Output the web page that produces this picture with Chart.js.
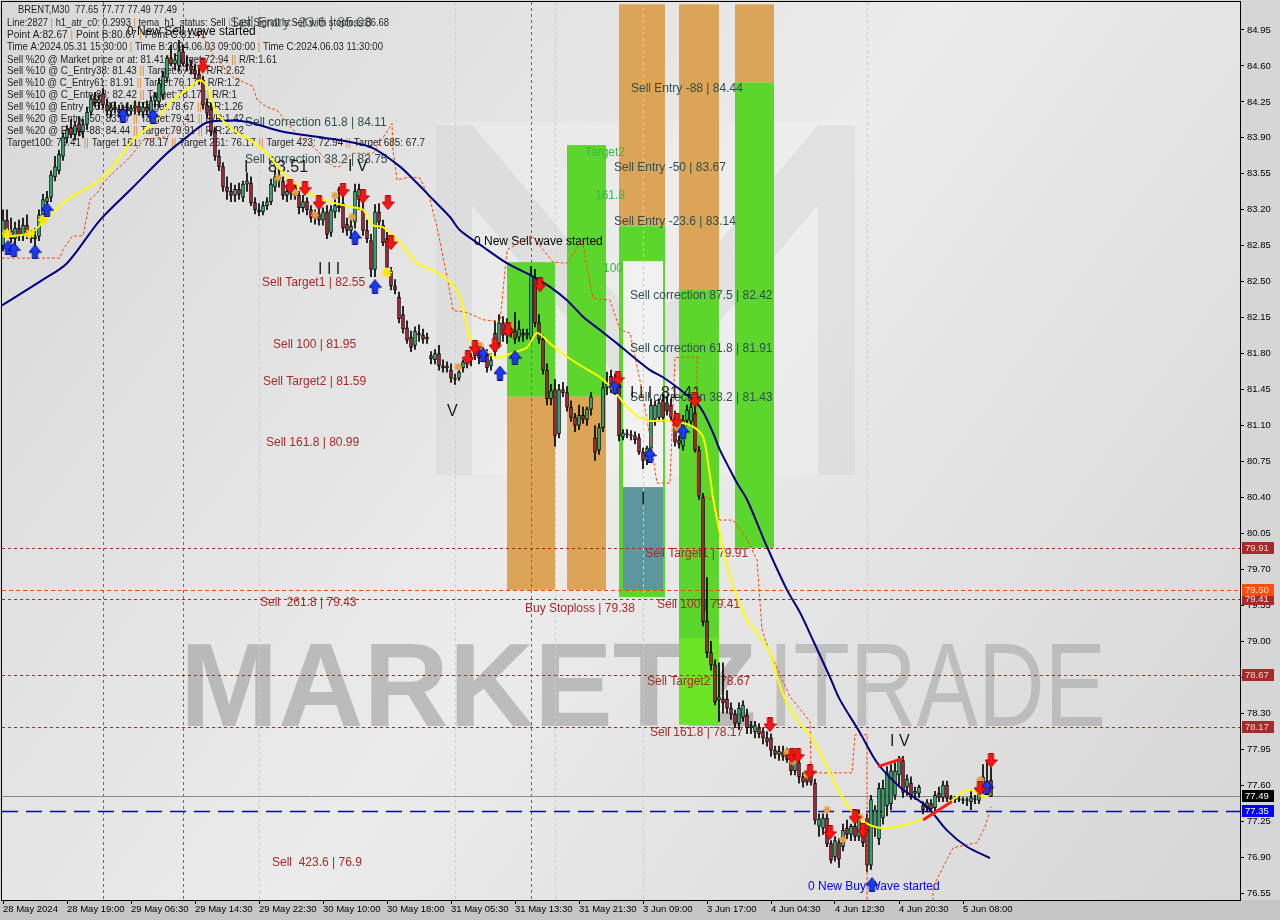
<!DOCTYPE html>
<html>
<head>
<meta charset="utf-8">
<title>BRENT M30</title>
<script src="https://cdn.jsdelivr.net/npm/chart.js@4.4.1/dist/chart.umd.min.js"></script>
<style>
  html, body { margin: 0; padding: 0; background: #d6d6d6; }
  #box { position: relative; width: 1280px; height: 920px; }
</style>
</head>
<body>
<div id="box"><canvas id="chart"></canvas></div>
<script>
// ---- M30 candles, 28 May 2024 -> 5 Jun 2024 (bar index = position) ----
const opens = [
  82.85,83.10,83.00,82.92,83.02,82.95,83.05,82.96,82.92,82.94,
  83.15,83.28,83.32,83.52,83.58,83.72,83.90,84.00,83.93,84.04,
  83.96,84.03,84.15,84.28,84.24,84.33,84.22,84.16,84.20,84.18,
  84.15,84.18,84.16,84.19,84.21,84.15,84.20,84.14,84.26,84.25,
  84.32,84.48,84.68,84.62,84.60,84.74,84.62,84.60,84.56,84.52,
  84.46,84.22,84.18,83.96,83.72,83.62,83.42,83.38,83.34,83.40,
  83.32,83.45,83.46,83.27,83.20,83.18,83.24,83.28,83.42,83.52,
  83.48,83.34,83.36,83.42,83.34,83.22,83.28,83.20,83.12,83.16,
  83.10,83.18,82.98,83.18,83.24,83.26,83.06,83.00,83.08,83.30,
  83.20,83.00,82.90,82.62,83.18,83.05,82.92,82.60,82.46,82.35,
  82.18,82.05,81.96,81.88,82.00,81.98,81.94,81.78,81.74,81.80,
  81.68,81.66,81.64,81.56,81.56,81.66,81.70,81.74,81.78,81.86,
  81.78,81.78,81.68,82.00,81.90,82.10,81.98,82.04,82.02,81.96,
  82.00,81.98,81.95,82.54,82.10,81.94,81.64,81.36,81.45,81.02,
  81.45,81.42,81.28,81.18,81.10,81.20,81.16,81.26,80.98,80.86,
  81.08,81.47,81.58,81.46,81.50,80.99,81.02,81.01,81.00,80.98,
  80.84,80.76,80.88,81.16,81.18,81.34,81.32,81.30,81.18,80.96,
  80.90,81.15,81.14,81.22,80.86,80.40,79.20,78.89,78.77,78.43,
  78.44,78.44,78.35,78.29,78.20,78.26,78.28,78.16,78.12,78.16,
  78.12,78.06,78.06,77.94,77.90,77.92,77.90,77.85,77.74,77.82,
  77.68,77.68,77.70,77.62,77.20,77.18,77.28,77.03,76.90,77.04,
  77.00,77.18,77.12,77.20,77.10,77.18,77.28,76.82,77.18,77.08,
  77.28,77.40,77.42,77.50,77.70,77.84,77.58,77.62,77.52,77.52,
  77.40,77.38,77.42,77.38,77.52,77.48,77.60,77.48,77.46,77.47,
  77.46,77.45,77.44,77.47,77.45,77.58,77.62,77.65
];
const highs = [
  83.20,83.20,83.12,83.08,83.10,83.12,83.15,83.00,83.02,83.20,
  83.35,83.38,83.58,83.72,83.78,83.95,84.02,84.08,84.06,84.10,
  84.08,84.20,84.32,84.34,84.32,84.38,84.28,84.24,84.25,84.22,
  84.22,84.24,84.22,84.26,84.25,84.24,84.26,84.30,84.34,84.48,
  84.55,84.70,84.80,84.72,84.85,84.80,84.70,84.66,84.62,84.58,
  84.50,84.28,84.24,84.00,83.78,83.66,83.52,83.46,83.44,83.46,
  83.48,83.56,83.52,83.32,83.26,83.28,83.32,83.50,83.58,83.60,
  83.52,83.44,83.46,83.46,83.38,83.34,83.32,83.24,83.20,83.22,
  83.22,83.24,83.24,83.30,83.42,83.44,83.12,83.10,83.45,83.45,
  83.40,83.10,82.96,83.25,83.26,83.10,82.98,82.64,82.52,82.40,
  82.26,82.12,82.02,82.06,82.08,82.04,82.00,81.82,81.84,81.88,
  81.74,81.72,81.70,81.60,81.64,81.74,81.78,81.80,81.92,81.90,
  81.86,81.84,81.80,82.12,82.18,82.16,82.14,82.10,82.20,82.12,
  82.04,82.04,82.65,82.62,82.18,81.98,81.70,81.50,81.55,81.50,
  81.52,81.48,81.34,81.22,81.30,81.28,81.28,81.42,81.10,81.12,
  81.52,81.62,81.64,81.60,81.56,81.06,81.06,81.05,81.04,81.02,
  80.88,80.90,81.36,81.34,81.36,81.40,81.38,81.36,81.24,81.00,
  81.20,81.30,81.32,81.40,80.90,80.44,79.62,79.00,78.82,78.79,
  78.79,78.52,78.40,78.33,78.40,78.42,78.34,78.22,78.22,78.20,
  78.16,78.12,78.10,77.98,77.98,77.98,77.96,77.90,77.86,77.86,
  77.72,77.72,77.74,77.66,77.32,77.32,77.32,77.06,77.10,77.08,
  77.22,77.26,77.22,77.24,77.36,77.22,77.32,77.50,77.40,77.62,
  77.65,77.78,77.80,77.82,77.88,77.88,77.70,77.68,77.58,77.60,
  77.44,77.46,77.46,77.54,77.58,77.64,77.64,77.50,77.49,77.50,
  77.48,77.48,77.54,77.50,77.62,77.80,77.82,77.77
];
const lows = [
  82.80,82.95,82.88,82.85,82.90,82.90,82.92,82.88,82.80,82.90,
  83.10,83.20,83.28,83.48,83.55,83.68,83.85,83.90,83.88,83.92,
  83.90,83.98,84.12,84.20,84.18,84.18,84.12,84.10,84.14,84.10,
  84.10,84.12,84.12,84.13,84.12,84.10,84.12,84.10,84.20,84.20,
  84.28,84.45,84.60,84.56,84.55,84.60,84.55,84.52,84.48,84.42,
  84.18,84.10,83.92,83.68,83.58,83.38,83.30,83.28,83.28,83.30,
  83.28,83.38,83.24,83.16,83.14,83.15,83.20,83.25,83.38,83.42,
  83.30,83.28,83.30,83.30,83.16,83.18,83.15,83.08,83.06,83.05,
  83.05,82.92,82.94,83.12,83.18,82.98,82.95,82.92,83.02,83.20,
  82.95,82.88,82.55,82.55,83.02,82.85,82.60,82.42,82.38,82.10,
  82.00,81.90,81.82,81.84,81.92,81.90,81.90,81.70,81.70,81.64,
  81.62,81.62,81.52,81.50,81.54,81.62,81.66,81.68,81.74,81.70,
  81.72,81.62,81.64,81.76,81.86,81.92,81.90,81.96,81.90,81.92,
  81.92,81.94,81.90,82.06,81.90,81.60,81.30,81.30,80.90,80.98,
  81.38,81.24,81.14,81.04,81.06,81.12,81.10,81.20,80.76,80.82,
  81.04,81.40,81.42,81.40,80.95,80.96,80.98,80.96,80.92,80.82,
  80.68,80.72,80.84,81.10,81.14,81.14,81.20,81.14,80.90,80.88,
  80.86,81.10,81.10,80.84,80.38,79.15,78.84,78.72,78.38,78.22,
  78.30,78.30,78.24,78.16,78.14,78.22,78.10,78.10,78.06,78.06,
  78.00,77.98,77.88,77.86,77.84,77.84,77.82,77.70,77.70,77.62,
  77.58,77.60,77.60,77.22,77.10,77.12,77.00,76.84,76.86,76.80,
  76.96,77.08,77.06,77.06,77.06,77.00,76.76,76.78,77.10,77.02,
  77.22,77.30,77.36,77.46,77.60,77.48,77.50,77.46,77.46,77.48,
  77.32,77.34,77.34,77.34,77.44,77.44,77.44,77.44,77.43,77.44,
  77.42,77.40,77.36,77.42,77.42,77.52,77.50,77.49
];
const closes = [
  83.10,83.00,82.92,83.02,82.95,83.05,82.96,82.92,82.94,83.15,
  83.30,83.32,83.54,83.62,83.74,83.91,83.98,83.93,84.02,83.96,
  84.03,84.15,84.28,84.24,84.28,84.22,84.16,84.20,84.18,84.15,
  84.18,84.16,84.19,84.21,84.15,84.20,84.16,84.26,84.30,84.43,
  84.50,84.68,84.62,84.66,84.75,84.62,84.60,84.56,84.52,84.46,
  84.22,84.14,83.96,83.72,83.62,83.42,83.38,83.34,83.40,83.35,
  83.45,83.48,83.27,83.20,83.18,83.24,83.28,83.45,83.52,83.48,
  83.34,83.38,83.42,83.34,83.22,83.28,83.20,83.12,83.16,83.10,
  83.18,82.96,83.20,83.24,83.22,83.02,83.00,83.04,83.38,83.40,
  83.00,82.92,82.62,83.18,83.08,82.88,82.64,82.46,82.42,82.14,
  82.04,81.93,81.86,82.02,81.98,81.94,81.96,81.75,81.80,81.68,
  81.66,81.68,81.56,81.55,81.62,81.72,81.74,81.76,81.88,81.76,
  81.80,81.66,81.74,81.82,82.10,81.98,82.08,82.00,81.94,82.04,
  81.98,82.00,82.56,82.10,81.94,81.64,81.36,81.44,81.00,81.45,
  81.42,81.28,81.18,81.10,81.20,81.16,81.26,81.38,80.84,81.08,
  81.47,81.50,81.46,81.52,81.00,81.03,81.01,81.00,80.96,80.84,
  80.76,80.88,81.30,81.30,81.32,81.18,81.24,81.18,80.94,80.92,
  81.15,81.25,81.28,80.86,80.41,79.19,78.89,78.77,78.41,78.46,
  78.40,78.35,78.29,78.20,78.35,78.38,78.16,78.18,78.18,78.10,
  78.06,78.02,77.94,77.90,77.93,77.88,77.85,77.74,77.82,77.68,
  77.63,77.63,77.63,77.26,77.27,77.28,77.03,76.87,77.06,76.88,
  77.16,77.12,77.20,77.10,77.30,77.04,76.82,77.46,77.36,77.57,
  77.57,77.72,77.74,77.74,77.84,77.53,77.66,77.48,77.54,77.58,
  77.36,77.43,77.37,77.50,77.48,77.60,77.47,77.46,77.47,77.46,
  77.45,77.46,77.48,77.46,77.53,77.68,77.64,77.49
];

// ---- axes ----
const timeTickBars = [0, 16, 32, 48, 64, 80, 96, 112, 128, 144, 160, 176, 192, 208, 224, 240];
const timeTickText = ['28 May 2024', '28 May 19:00', '29 May 06:30', '29 May 14:30', '29 May 22:30',
  '30 May 10:00', '30 May 18:00', '31 May 05:30', '31 May 13:30', '31 May 21:30', '3 Jun 09:00',
  '3 Jun 17:00', '4 Jun 04:30', '4 Jun 12:30', '4 Jun 20:30', '5 Jun 08:00'];
const priceTicks = [84.95, 84.60, 84.25, 83.90, 83.55, 83.20, 82.85, 82.50, 82.15, 81.80, 81.45,
  81.10, 80.75, 80.40, 80.05, 79.70, 79.35, 79.00, 78.65, 78.30, 77.95, 77.60, 77.25, 76.90, 76.55];

// ---- indicator lines (bar index / price) ----
const temaX = [0, 6.75, 10, 12.5, 16, 20, 24.25, 26.75, 29.25, 32.5, 36.75, 40, 41.75, 46, 49.25, 51, 53.5,
  57.5, 61.75, 66, 70, 74.25, 78.5, 82.5, 86.75, 90, 92.5, 95, 99.25, 103.5, 107.5, 111.75, 114.25,
  117.25, 120, 123.5, 127.5, 131, 133.5, 136.75, 141, 145, 149.25, 152.5, 156.75, 161, 165, 169.25,
  172.5, 175, 176.25, 177.5, 179.25, 180.5, 181.75, 183.5, 186, 189.25, 191.75, 193.5, 196, 199.25,
  202.5, 206, 209.25, 212.5, 216.75, 221, 225, 229.25, 233.5, 237.5, 241, 243.5, 245, 247];
const temaY = [82.94, 82.97, 83.08, 83.17, 83.30, 83.39, 83.49, 83.59, 83.71, 83.88, 84.01, 84.15, 84.24,
  84.37, 84.46, 84.40, 84.14, 83.98, 83.88, 83.75, 83.56, 83.42, 83.32, 83.27, 83.23, 83.20, 83.05,
  83.03, 82.88, 82.68, 82.61, 82.50, 82.35, 81.90, 81.84, 81.76, 81.81, 81.86, 82.00, 81.90, 81.77,
  81.67, 81.57, 81.45, 81.25, 81.15, 81.15, 81.13, 81.09, 80.99, 80.74, 80.40, 80.05, 79.82, 79.63,
  79.43, 79.21, 79.04, 78.89, 78.65, 78.40, 78.20, 78.04, 77.78, 77.52, 77.33, 77.21, 77.18, 77.21,
  77.26, 77.34, 77.46, 77.55, 77.53, 77.48, 77.52];
const maX = [-0.25, 10, 16, 24.25, 32.5, 41, 46, 51, 57.5, 61.75, 70, 78.5, 86.75, 92.5, 99.25, 103.5,
  107.5, 111.75, 114.25, 120, 126, 132.5, 136.75, 141, 145, 149.25, 153.5, 157.5, 161.75, 165, 169.25,
  174.25, 177.5, 179.25, 181.75, 183.5, 186, 191, 196, 199.25, 202.5, 206.75, 209.25, 214.25, 218.5,
  224.25, 231, 236, 241, 246.75];
const maY = [82.27, 82.52, 82.68, 83.10, 83.42, 83.75, 83.91, 84.05, 84.07, 84.05, 83.96, 83.91, 83.86,
  83.80, 83.62, 83.46, 83.30, 83.13, 83.00, 82.84, 82.68, 82.55, 82.45, 82.32, 82.16, 82.03, 81.90,
  81.77, 81.64, 81.57, 81.45, 81.28, 81.03, 80.86, 80.67, 80.54, 80.38, 79.92, 79.50, 79.28, 79.01,
  78.65, 78.43, 78.11, 77.82, 77.58, 77.39, 77.16, 77.00, 76.89];
const stopX = [-0.25, 14.25, 15, 17.25, 20, 21.75, 23.5, 25, 27.5, 31.75, 35, 38.5, 41, 47, 47,
  49.25, 52.5, 57.5, 62.5, 63.5, 66, 68.5, 71.75, 74.25, 78.5, 82.5, 84.25, 87.25, 92.5, 97.25, 97.5,
  98.5, 101.75, 104.25, 106.75, 108.5, 111, 112.5, 116, 120, 124.25, 126, 132.25, 137.5, 141, 144.75,
  147.5, 151.75, 154.25, 156.75, 159.25, 161.75, 163.5, 166.75, 168, 173.5, 173.5, 177.5, 179.25,
  182.5, 185.75, 188.5, 189.75, 191.75, 196.75, 201.75, 202, 212.25, 213, 216, 216, 232.5, 232.5,
  237.5, 243.5, 245.5, 247];
const stopY = [82.73, 82.73, 82.81, 82.94, 82.95, 83.30, 83.36, 83.46, 83.56, 83.71, 83.88, 83.90,
  83.91, 84.07, null,
  84.93, 84.71, 84.49, 84.40, 84.27, 84.20, 84.17, 84.01, 83.91, 83.78, 83.62, 83.62, 83.75, 83.75,
  84.04, 83.78, 83.49, 83.52, 83.51, 83.30, 83.03, 82.55, 82.22, 82.20, 82.13, 82.11, 82.81, 82.95,
  82.69, 82.68, 82.91, 82.34, 82.32, 82.03, 82.00, 81.54, 80.99, 80.54, 80.54, 81.76, 81.77, 80.44,
  80.38, 80.18, 80.18, 80.01, 79.79, 79.11, 78.89, 78.46, 78.22, 77.72, 77.72, 78.09, 78.09, 76.45,
  76.45, 76.61, 76.99, 77.04, 77.19, 77.39];
const trendA = [[218.75, 77.78], [225, 77.86]];
const trendB = [[230, 77.26], [237.25, 77.44]];

// ---- signal markers ----
const sellArrowX = [50, 71.75, 75.5, 79, 85, 90, 96.25, 97, 116.25, 118, 123, 126.25, 134.25, 153.75,
  168.5, 173, 191.75, 197.25, 198.75, 201.75, 206.75, 213, 215, 244.25, 247];
const sellArrowY = [84.60, 83.43, 83.41, 83.27, 83.39, 83.33, 83.27, 82.88, 81.76, 81.86, 81.88, 82.03,
  82.47, 81.56, 81.15, 81.35, 78.19, 77.89, 77.89, 77.73, 77.14, 77.29, 77.16, 77.57, 77.84];
const buyArrowX = [1.25, 2.75, 8, 11, 30, 37.5, 88, 93, 120, 124.25, 128, 153, 161.75, 170, 217.25, 246];
const buyArrowY = [82.83, 82.81, 82.79, 83.20, 84.12, 84.11, 82.93, 82.45, 81.79, 81.61, 81.76, 81.48,
  80.81, 81.04, 76.63, 77.58];
const crossX = [68.75, 73, 78, 83, 87.25, 113.75, 119.25, 126.75, 168.5, 196, 197.5, 201, 206, 210, 214.25, 244.25];
const crossY = [83.51, 83.37, 83.15, 83.34, 83.13, 81.67, 81.88, 82.08, 81.08, 77.92, 77.83, 77.70,
  77.36, 77.07, 77.29, 77.65];
const starX = [1, 6.75, 10, 96];
const starY = [82.97, 82.97, 83.10, 82.59];

// ---- zones: from bar, to bar, top price, bottom price ----
const zoneFrom = [126, 126, 141, 141, 154, 154, 155, 155, 169, 169, 169, 183, 183];
const zoneTo = [138, 138, 150.75, 150.75, 165.5, 165.5, 165, 165, 179, 179, 179, 192.75, 192.75];
const zoneHigh = [82.69, 81.38, 83.83, 81.38, 85.20, 83.04, 82.70, 80.50, 85.20, 82.42, 79.03, 85.20, 84.44];
const zoneLow = [81.38, 79.50, 81.38, 79.50, 83.04, 79.43, 80.50, 79.50, 82.42, 78.19, 78.19, 84.44, 79.91];
const zoneKind = ['green', 'orange', 'green', 'orange', 'orange', 'green', 'white', 'teal', 'orange',
  'green', 'lime', 'orange', 'green'];

// ---- horizontal levels and vertical markers ----
const levelPrice = [79.91, 79.41, 78.67, 78.17, 79.50, 77.49, 77.35];
const levelKind = ['target', 'target', 'target', 'target', 'entry', 'bid', 'ask'];
const vlineBar = [25, 45, 132, 64, 113, 138, 160, 216];
const vlineKind = ['time', 'time', 'time', 'day', 'day', 'day', 'day', 'day'];

// ---- text on the chart: bar, price ----
const labelText = ['Sell Entry -88 | 84.44', 'Sell Entry -50 | 83.67', 'Sell Entry -23.6 | 83.14',
  'Sell correction 87.5 | 82.42', 'Sell correction 61.8 | 81.91', 'Sell correction 38.2 | 81.43',
  'Sell correction 61.8 | 84.11', 'Sell correction 38.2 | 83.75',
  'Sell Target1 | 82.55', 'Sell 100 | 81.95', 'Sell Target2 | 81.59', 'Sell 161.8 | 80.99',
  'Sell  261.8 | 79.43', 'Sell  423.6 | 76.9', 'Buy Stoploss | 79.38', 'Sell Target1 | 79.91',
  'Sell 100 | 79.41', 'Sell Target2 | 78.67', 'Sell 161.8 | 78.17',
  'I I I  81.41', 'I', '83.51', 'I I I', 'I V', 'V', 'I V', 'I',
  '0 New Sell wave started', '0 New Sell wave started', '0 New Buy Wave started',
  'Target2', '161.8', '100', 'Sell Entry -23.6 | 85.08'];
const labelBar = [157, 152.75, 152.75, 156.75, 156.75, 156.75, 60.5, 60.5,
  64.75, 67.5, 65, 65.75, 64.25, 67.25, 130.5, 160.5, 163.5, 161, 161.75,
  156.75, 60.25, 66.25, 78.75, 86.25, 111, 221.75, 159.5,
  31, 117.75, 201.25, 145.5, 148, 150, 56.75];
const labelPrice = [84.44, 83.67, 83.14, 82.42, 81.91, 81.43, 84.11, 83.75,
  82.55, 81.95, 81.59, 80.99, 79.43, 76.9, 79.38, 79.91, 79.41, 78.67, 78.17,
  81.41, 83.61, 83.61, 82.62, 83.62, 81.24, 78.02, 80.38,
  84.93, 82.89, 76.61, 83.76, 83.34, 82.63, 85.02];
const labelKind = ['entry', 'entry', 'entry', 'entry', 'entry', 'entry', 'entry', 'entry',
  'target', 'target', 'target', 'target', 'target', 'target', 'target', 'target', 'target', 'target', 'target',
  'wave', 'wave', 'wave', 'wave', 'wave', 'wave', 'wave', 'wave',
  'note', 'note', 'buy', 'fib', 'fib', 'fib', 'big'];

const headerLines = [
  'BRENT,M30  77.65 77.77 77.49 77.49',
  'Line:2827 | h1_atr_c0: 0.2993 | tema_h1_status: Sell | Last Signal is:Sell with stoploss:86.68',
  'Point A:82.67 | Point B:80.67 | Point C:81.41',
  'Time A:2024.05.31 15:30:00 | Time B:2024.06.03 09:00:00 | Time C:2024.06.03 11:30:00',
  'Sell %20 @ Market price or at: 81.41 || Target:72.94 || R/R:1.61',
  'Sell %10 @ C_Entry38: 81.43 || Target:67.7 || R/R:2.62',
  'Sell %10 @ C_Entry61: 81.91 || Target:76.17 || R/R:1.2',
  'Sell %10 @ C_Entry88: 82.42 || Target:78.17 || R/R:1',
  'Sell %10 @ Entry -23: 83.14 || Target:78.67 || R/R:1.26',
  'Sell %20 @ Entry -50: 83.67 || Target:79.41 || R/R:1.42',
  'Sell %20 @ Entry -88: 84.44 || Target:79.91 || R/R:2.02',
  'Target100: 79.41 || Target 161: 78.17 || Target 261: 76.17 || Target 423: 72.94 || Target 685: 67.7'
];

// ---------------------------------------------------------------
const FONT = '"Liberation Sans", Arial, sans-serif';
const zoneColor = { green: '#5cd62c', orange: '#dba456', white: '#f1f1f1', teal: '#5e979b', lime: '#6ce426' };
const levelStyle = {
  target: { color: '#a52a2a', dash: [3, 3], width: 1, box: '#a52a2a', text: '#f2d4d4' },
  entry: { color: '#ff4500', dash: [4, 3], width: 1, box: '#ff4f0a', text: '#ffe0cc' },
  bid: { color: '#8a8a8a', dash: [], width: 1, box: '#000000', text: '#ffffff' },
  ask: { color: '#0000cd', dash: [16, 8], width: 1.5, box: '#0000ff', text: '#ffffff' }
};
const labelStyle = {
  entry: { font: '12px ' + FONT, color: '#2f4f4f', base: 'top' },
  target: { font: '12px ' + FONT, color: '#a52a2a', base: 'top' },
  wave: { font: '16px ' + FONT, color: '#1c1c1c', base: 'middle' },
  note: { font: '12px ' + FONT, color: '#000000', base: 'middle' },
  buy: { font: '12px ' + FONT, color: '#0000ff', base: 'middle' },
  fib: { font: '12px ' + FONT, color: '#3cb83c', base: 'middle' },
  big: { font: '14px ' + FONT, color: 'rgba(60,75,75,0.75)', base: 'middle' }
};
const headerY = [10, 23, 35, 47, 60, 71, 83, 95, 107, 119, 131, 143];
const headerEnd = [177, 389, 206, 383, 277, 245, 240, 237, 243, 244, 244, 425];

function arrowImage(fill, edge, down) {
  const c = document.createElement('canvas');
  c.width = 13; c.height = 15;
  const g = c.getContext('2d');
  const pts = [[4, 0.5], [9, 0.5], [9, 7], [12.5, 7], [6.5, 14.5], [0.5, 7], [4, 7]];
  g.beginPath();
  pts.forEach(([px, py], k) => {
    const yy = down ? py : 15 - py;
    if (k) g.lineTo(px, yy); else g.moveTo(px, yy);
  });
  g.closePath();
  g.fillStyle = fill; g.fill();
  g.strokeStyle = edge; g.lineWidth = 1; g.stroke();
  return c;
}

function drawHeader(ctx) {
  ctx.font = '11px ' + FONT;
  ctx.textBaseline = 'middle';
  ctx.textAlign = 'left';
  headerLines.forEach((line, k) => {
    const x0 = k === 0 ? 18 : 7;
    const sx = (headerEnd[k] - x0) / ctx.measureText(line).width;
    ctx.save();
    ctx.translate(x0, headerY[k]);
    ctx.scale(sx, 1);
    let cx = 0;
    line.split(/(\|+)/).forEach(part => {
      if (!part) return;
      ctx.fillStyle = part[0] === '|' ? '#e0862c' : '#1e1e1e';
      ctx.fillText(part, cx, 0);
      cx += ctx.measureText(part).width;
    });
    ctx.restore();
  });
}

// keep the plot edge-to-edge like the terminal window
function noPad(s) {
  s.paddingLeft = 0; s.paddingRight = 0; s.paddingTop = 0; s.paddingBottom = 0;
}

const decor = {
  id: 'decor',
  beforeDraw(chart) {
    const { ctx, chartArea: a, width, height } = chart;
    ctx.save();
    ctx.fillStyle = '#d6d6d6';
    ctx.fillRect(0, 0, width, height);
    ctx.fillStyle = '#c6c6c6';
    ctx.fillRect(0, a.bottom, width, height - a.bottom);
    const g = ctx.createLinearGradient(a.left, a.top, a.right, a.bottom);
    g.addColorStop(0, '#d8d8d8');
    g.addColorStop(0.5, '#ebebeb');
    g.addColorStop(1, '#d6d6d6');
    ctx.fillStyle = g;
    ctx.fillRect(a.left, a.top, a.right - a.left, a.bottom - a.top);
    ctx.restore();
  },
  beforeDatasetsDraw(chart) {
    const { ctx, chartArea: a, scales: { x, y } } = chart;
    ctx.save();
    ctx.beginPath();
    ctx.rect(a.left, a.top, a.right - a.left, a.bottom - a.top);
    ctx.clip();

    // watermark logo and brand text
    ctx.fillStyle = 'rgba(255,255,255,0.18)';
    ctx.fillRect(436, 122, 419, 353);
    ctx.fillStyle = 'rgba(150,150,150,0.13)';
    ctx.beginPath();
    [[436, 475], [436, 125], [472, 125], [645, 330], [818, 125], [855, 125], [855, 475], [818, 475],
     [818, 205], [645, 410], [472, 205], [472, 475]].forEach(([px, py], k) => k ? ctx.lineTo(px, py) : ctx.moveTo(px, py));
    ctx.closePath();
    ctx.fill();
    ctx.textBaseline = 'alphabetic';
    ctx.textAlign = 'left';
    ctx.font = 'bold 118px ' + FONT;
    ctx.fillStyle = 'rgba(125,125,125,0.42)';
    ctx.fillText('MARKETZ', 180, 726, 585);
    ctx.font = '118px ' + FONT;
    ctx.fillStyle = 'rgba(135,135,135,0.38)';
    ctx.fillText('ITRADE', 768, 726, 338);

    // zones
    zoneFrom.forEach((f, k) => {
      const x0 = x.getPixelForValue(f), x1 = x.getPixelForValue(zoneTo[k]);
      const y0 = y.getPixelForValue(zoneHigh[k]), y1 = y.getPixelForValue(zoneLow[k]);
      ctx.fillStyle = zoneColor[zoneKind[k]];
      ctx.fillRect(x0, y0, x1 - x0, y1 - y0);
    });

    // vertical markers
    vlineBar.forEach((b, k) => {
      const px = Math.round(x.getPixelForValue(b)) + 0.5;
      ctx.strokeStyle = vlineKind[k] === 'time' ? '#c0379a' : '#a9d9e4';
      ctx.lineWidth = 1;
      ctx.setLineDash([3, 3]);
      ctx.beginPath(); ctx.moveTo(px, a.top); ctx.lineTo(px, a.bottom); ctx.stroke();
    });

    // horizontal levels
    levelPrice.forEach((p, k) => {
      const st = levelStyle[levelKind[k]];
      const py = Math.round(y.getPixelForValue(p)) + 0.5;
      ctx.strokeStyle = st.color;
      ctx.lineWidth = st.width;
      ctx.setLineDash(st.dash);
      ctx.beginPath(); ctx.moveTo(a.left, py); ctx.lineTo(a.right, py); ctx.stroke();
    });
    ctx.setLineDash([]);

    // labels
    ctx.textAlign = 'left';
    labelText.forEach((t, k) => {
      const st = labelStyle[labelKind[k]];
      ctx.font = st.font;
      ctx.fillStyle = st.color;
      ctx.textBaseline = st.base;
      ctx.fillText(t, x.getPixelForValue(labelBar[k]), y.getPixelForValue(labelPrice[k]));
    });

    drawHeader(ctx);
    ctx.restore();
  },
  afterDraw(chart) {
    const { ctx, chartArea: a, scales: { y } } = chart;
    ctx.save();
    ctx.strokeStyle = '#000';
    ctx.lineWidth = 1;
    ctx.strokeRect(a.left - 0.5, a.top - 0.5, a.right - a.left + 1, a.bottom - a.top + 1);
    ctx.font = '9.5px ' + FONT;
    ctx.textBaseline = 'middle';
    ctx.textAlign = 'left';
    levelPrice.forEach((p, k) => {
      const st = levelStyle[levelKind[k]];
      const py = Math.round(y.getPixelForValue(p));
      ctx.fillStyle = st.box;
      ctx.fillRect(a.right + 2, py - 6, 32, 12);
      ctx.fillStyle = st.text;
      ctx.fillText(p.toFixed(2), a.right + 5, py + 0.5);
    });
    ctx.restore();
  }
};

const bars = opens.map((o, i) => i);
const pts = (xs, ys) => xs.map((v, i) => ({ x: v, y: ys[i] }));

new Chart(document.getElementById('chart'), {
  type: 'bar',
  data: {
    datasets: [
      { type: 'line', data: pts(sellArrowX, sellArrowY), showLine: false,
        pointStyle: arrowImage('#ff1414', '#a00000', true), pointRadius: 7 },
      { type: 'line', data: pts(buyArrowX, buyArrowY), showLine: false,
        pointStyle: arrowImage('#1a3cff', '#00006e', false), pointRadius: 7 },
      { type: 'line', data: pts(crossX, crossY), showLine: false, pointStyle: 'star',
        pointRadius: 4, borderColor: '#e8a13c', borderWidth: 1.5 },
      { type: 'line', data: pts(starX, starY), showLine: false, pointStyle: 'star',
        pointRadius: 5, borderColor: '#ffe600', borderWidth: 2 },
      { type: 'line', data: trendA.map(([a, b]) => ({ x: a, y: b })), borderColor: '#ff1a1a',
        borderWidth: 3, pointRadius: 0 },
      { type: 'line', data: trendB.map(([a, b]) => ({ x: a, y: b })), borderColor: '#ff1a1a',
        borderWidth: 3, pointRadius: 0 },
      { type: 'line', data: pts(temaX, temaY), borderColor: '#ffff00', borderWidth: 2,
        pointRadius: 0, tension: 0.3 },
      { type: 'line', data: pts(maX, maY), borderColor: '#00007f', borderWidth: 2,
        pointRadius: 0, tension: 0.3 },
      { type: 'line', data: pts(stopX, stopY), borderColor: '#ff4500', borderWidth: 1,
        borderDash: [3, 2], pointRadius: 0, spanGaps: false },
      { data: bars.map(i => ({ x: i, y: [Math.min(opens[i], closes[i]), Math.max(opens[i], closes[i])] })),
        backgroundColor: bars.map(i => closes[i] >= opens[i] ? '#3cc47c' : '#c42b3f'),
        borderColor: '#000', borderWidth: 1, borderSkipped: false, barThickness: 3,
        minBarLength: 1, grouped: false },
      { data: bars.map(i => ({ x: i, y: [lows[i], highs[i]] })),
        backgroundColor: '#000', barThickness: 1, grouped: false }
    ]
  },
  options: {
    responsive: true,
    maintainAspectRatio: false,
    animation: false,
    devicePixelRatio: 1,
    events: [],
    layout: { autoPadding: false, padding: { left: 2, top: 2, right: 0, bottom: 0 } },
    plugins: { legend: { display: false }, tooltip: { enabled: false } },
    scales: {
      x: {
        type: 'linear', min: -0.25, max: 309.25, offset: false, bounds: 'data',
        grid: { offset: false, drawOnChartArea: false, tickLength: 4, color: '#000' },
        border: { color: '#000' },
        afterBuildTicks: s => { s.ticks = timeTickBars.map(v => ({ value: v })); },
        afterFit: s => { s.height = 20; noPad(s); },
        ticks: {
          autoSkip: false, maxRotation: 0, align: 'start', padding: 0, color: '#000',
          font: { family: FONT, size: 9.5 },
          callback: v => { const k = timeTickBars.indexOf(v); return k < 0 ? '' : timeTickText[k]; }
        }
      },
      y: {
        type: 'linear', position: 'right', min: 76.4819, max: 85.2225, bounds: 'data',
        grid: { drawOnChartArea: false, tickLength: 4, color: '#000' },
        border: { color: '#000' },
        afterBuildTicks: s => { s.ticks = priceTicks.map(v => ({ value: v })); },
        afterFit: s => { s.width = 40; noPad(s); },
        ticks: {
          padding: 3, color: '#000', font: { family: FONT, size: 9.5 },
          callback: v => Number(v).toFixed(2)
        }
      }
    }
  },
  plugins: [decor]
});
</script>
</body>
</html>
